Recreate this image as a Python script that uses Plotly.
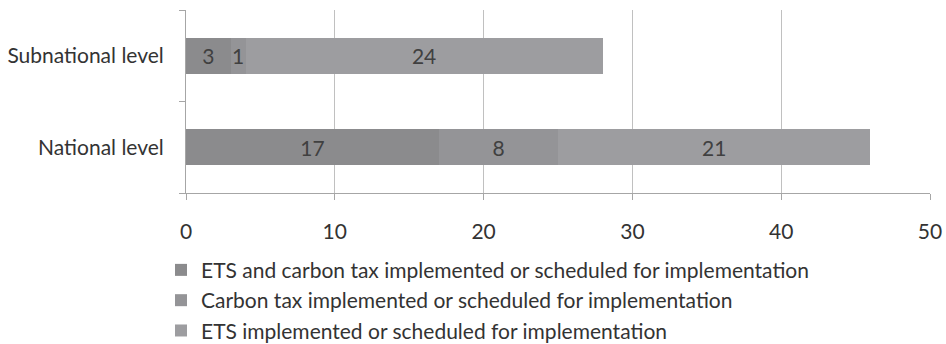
import plotly.graph_objects as go

categories = ["National level", "Subnational level"]
series_names = [
    "ETS and carbon tax implemented or scheduled for implementation",
    "Carbon tax implemented or scheduled for implementation",
    "ETS implemented or scheduled for implementation",
]
both_vals = [17, 3]
tax_vals = [8, 1]
ets_vals = [21, 24]
x_ticks = [0, 10, 20, 30, 40, 50]

colors = ["#8b8b8d", "#949497", "#9d9da0"]
font_family = "Lato, 'Open Sans', sans-serif"
fs = 21

fig = go.Figure()
for name, vals, col in zip(series_names, [both_vals, tax_vals, ets_vals], colors):
    fig.add_trace(go.Bar(
        y=categories, x=vals, name=name, orientation="h",
        marker=dict(color=col, line=dict(width=0)),
        text=[str(v) for v in vals], textposition="inside",
        insidetextanchor="middle", constraintext="none",
        textfont=dict(color="#404040", size=fs, family=font_family),
        width=0.39, cliponaxis=False,
    ))

fig.update_layout(
    barmode="stack",
    width=946, height=344,
    margin=dict(l=186, r=16, t=10, b=151, autoexpand=False),
    paper_bgcolor="white", plot_bgcolor="white",
    font=dict(family=font_family, size=fs, color="#333333"),
    uniformtext=dict(mode=False),
    legend=dict(
        orientation="v", x=-0.0336, xanchor="left", y=-0.31, yanchor="top",
        font=dict(size=fs, color="#333333"), traceorder="normal",
        itemwidth=30, tracegroupgap=0, itemclick=False,
    ),
    showlegend=True,
)
fig.update_xaxes(
    range=[0, 50], tickvals=x_ticks, showgrid=True, gridcolor="#c0c0c0",
    gridwidth=1, showline=True, linecolor="#a6a6a6", linewidth=1,
    ticks="outside", ticklen=6, tickcolor="#a6a6a6", zeroline=False,
    tickfont=dict(size=fs, color="#333333"), ticklabelstandoff=14,
    automargin=False,
)
fig.update_yaxes(
    categoryorder="array", categoryarray=categories, range=[-0.5, 1.5],
    showline=True, linecolor="#a6a6a6", linewidth=1, ticks="outside",
    ticklen=6, tickcolor="#a6a6a6", tickson="boundaries", showgrid=False,
    tickfont=dict(size=fs, color="#333333"), ticklabelstandoff=17,
    automargin=False,
)

fig.write_html(
    "out.html",
    config={"displayModeBar": False},
    post_script="document.body.style.margin='0';",
)
